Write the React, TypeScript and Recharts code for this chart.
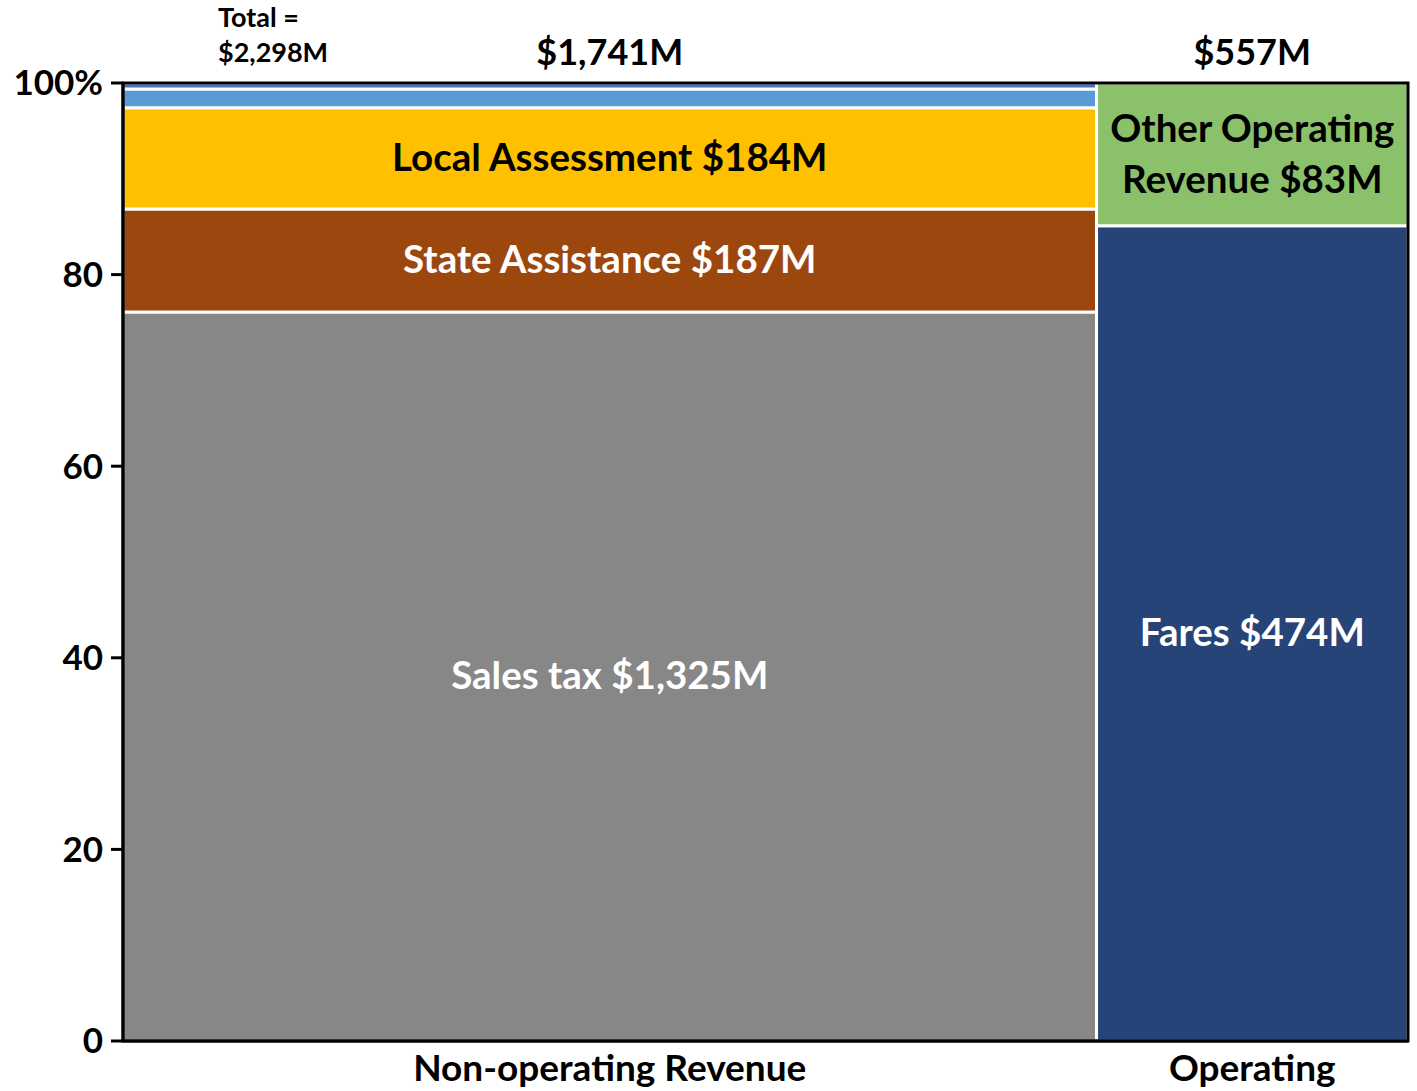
import React from 'react';
import { ComposedChart, XAxis, YAxis, ReferenceArea, Scatter } from 'recharts';

// ---- data ----
const columns = ['Non-operating Revenue', 'Operating'];
const columnTotals = [1741, 557];
const grandTotal = 2298;

const nonOperatingNames = ['Sales tax', 'State Assistance', 'Local Assessment', 'Other A', 'Other B'];
const nonOperatingValues = [1325, 187, 184, 34, 11];
const nonOperatingLabels = ['Sales tax $1,325M', 'State Assistance $187M', 'Local Assessment $184M', '', ''];

const operatingNames = ['Fares', 'Other Operating Revenue'];
const operatingValues = [474, 83];
const operatingLabels = ['Fares $474M', 'Other Operating Revenue $83M'];

const yTicks = [0, 20, 40, 60, 80, 100];

// ---- styles ----
const FONT = 'Lato, "Open Sans", sans-serif';
const nonOpFills = ['#878787', '#9C470D', '#FFC000', '#5B9BD5', '#4472C4'];
const nonOpText = ['#fff', '#fff', '#000', '#000', '#000'];
const opFills = ['#264478', '#8BC16A'];
const opText = ['#fff', '#000'];

type Seg = { name: string; x1: number; x2: number; y1: number; y2: number; label: string; fill: string; text: string };

function buildSegments(colIndex: number, names: string[], values: number[], labels: string[], fills: string[], texts: string[]): Seg[] {
  const start = columnTotals.slice(0, colIndex).reduce((a, b) => a + b, 0);
  const end = start + columnTotals[colIndex];
  const total = values.reduce((a, b) => a + b, 0);
  let acc = 0;
  return values.map((v, i) => {
    const y1 = (acc / total) * 100;
    acc += v;
    const y2 = (acc / total) * 100;
    return { name: names[i], x1: start, x2: end, y1, y2, label: labels[i], fill: fills[i], text: texts[i] };
  });
}

const segments: Seg[] = [
  ...buildSegments(0, nonOperatingNames, nonOperatingValues, nonOperatingLabels, nonOpFills, nonOpText),
  ...buildSegments(1, operatingNames, operatingValues, operatingLabels, opFills, opText),
];

const columnStarts = columnTotals.map((_, i) => columnTotals.slice(0, i).reduce((a, b) => a + b, 0));
const columnCenters = columnTotals.map((t, i) => columnStarts[i] + t / 2);

function segLabel(seg: Seg) {
  return (props: any) => {
    const vb = props.viewBox || {};
    const cx = vb.x + vb.width / 2;
    const cy = vb.y + vb.height / 2;
    if (!seg.label) return null;
    if (seg.name === 'Other Operating Revenue') {
      return (
        <text x={cx} y={cy} textAnchor="middle" fill={seg.text} fontFamily={FONT} fontWeight={700} fontSize={38.5}>
          <tspan x={cx} dy={-25.5 + 13}>Other Operating</tspan>
          <tspan x={cx} dy={51}>Revenue $83M</tspan>
        </text>
      );
    }
    return (
      <text x={cx} y={cy} dy={13} textAnchor="middle" fill={seg.text} fontFamily={FONT} fontWeight={700} fontSize={38.5}>
        {seg.label}
      </text>
    );
  };
}

function colTotalLabel(i: number) {
  return (props: any) => {
    const vb = props.viewBox || {};
    const cx = vb.x + vb.width / 2;
    return (
      <text x={cx} y={vb.y - 18} textAnchor="middle" fill="#000" fontFamily={FONT} fontWeight={700} fontSize={36}>
        {'$' + columnTotals[i].toLocaleString('en-US') + 'M'}
      </text>
    );
  };
}

const totalLabel = (props: any) => {
  const vb = props.viewBox || {};
  return (
    <text x={vb.x + 95} y={vb.y - 56} fill="#000" fontFamily={FONT} fontWeight={700} fontSize={27}>
      <tspan x={vb.x + 95}>Total =</tspan>
      <tspan x={vb.x + 95} dy={35}>{'$' + grandTotal.toLocaleString('en-US') + 'M'}</tspan>
    </text>
  );
};

export default function App() {
  return (
    <div style={{ position: 'absolute', left: 0, top: 0, background: '#fff' }}>
      <ComposedChart width={1417} height={1091} margin={{ top: 83, right: 9, bottom: 0, left: 10 }}>
        <XAxis
          type="number"
          dataKey="x"
          domain={[0, grandTotal]}
          ticks={columnCenters}
          tickFormatter={(v: number) => columns[columnCenters.indexOf(v)] ?? ''}
          interval={0}
          tickLine={false}
          axisLine={{ stroke: '#000', strokeWidth: 3 }}
          tick={{ fill: '#000', fontSize: 37, fontWeight: 700, fontFamily: FONT, dy: 6 }}
          height={50}
          allowDataOverflow
        />
        <YAxis
          type="number"
          dataKey="y"
          domain={[0, 100]}
          ticks={yTicks}
          tickFormatter={(v: number) => (v === 100 ? '100%' : String(v))}
          interval={0}
          width={113}
          tickSize={12}
          tickMargin={8}
          tickLine={{ stroke: '#000', strokeWidth: 3 }}
          axisLine={{ stroke: '#000', strokeWidth: 3 }}
          tick={{ fill: '#000', fontSize: 35, fontWeight: 700, fontFamily: FONT }}
          allowDataOverflow
        />
        <Scatter data={[]} isAnimationActive={false} />
        {segments.map((s, i) => (
          <ReferenceArea
            key={i}
            x1={s.x1}
            x2={s.x2}
            y1={s.y1}
            y2={s.y2}
            fill={s.fill}
            fillOpacity={1}
            stroke="#fff"
            strokeWidth={3}
            label={segLabel(s)}
          />
        ))}
        {columnTotals.map((t, i) => (
          <ReferenceArea
            key={'c' + i}
            x1={columnStarts[i]}
            x2={columnStarts[i] + t}
            y1={0}
            y2={100}
            fill="none"
            stroke="none"
            label={colTotalLabel(i)}
          />
        ))}
        <ReferenceArea x1={0} x2={grandTotal} y1={0} y2={100} fill="none" stroke="#000" strokeWidth={3} label={totalLabel} />
      </ComposedChart>
    </div>
  );
}
